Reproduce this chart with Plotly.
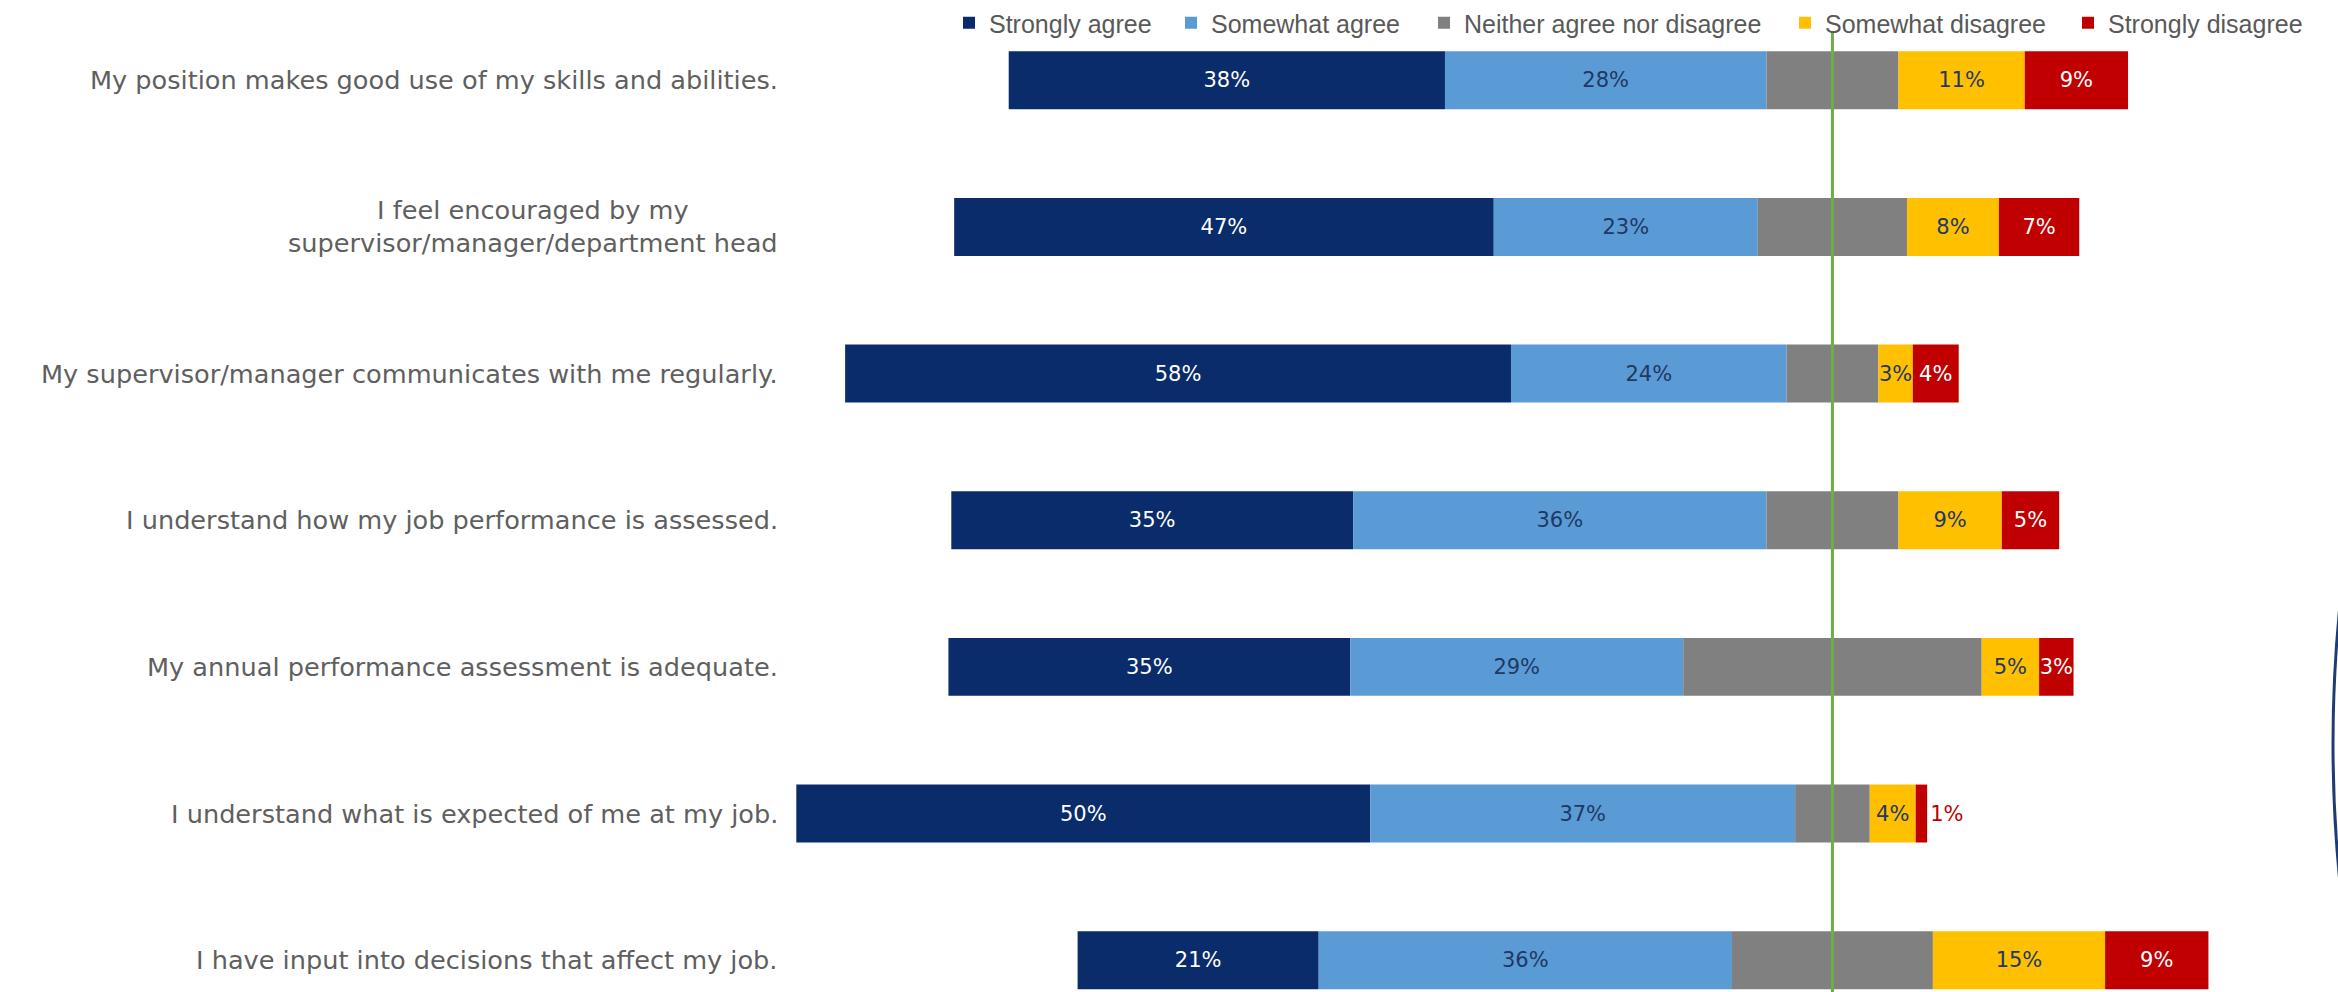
import plotly.graph_objects as go

categories = [
    "My position makes good use of my skills and abilities.",
    "I feel encouraged by my<br>supervisor/manager/department head",
    "My supervisor/manager communicates with me regularly.",
    "I understand how my job performance is assessed.",
    "My annual performance assessment is adequate.",
    "I understand what is expected of me at my job.",
    "I have input into decisions that affect my job.",
]
series_names = ["Strongly agree", "Somewhat agree", "Neither agree nor disagree",
                "Somewhat disagree", "Strongly disagree"]
strongly_agree = [38, 47, 58, 35, 35, 50, 21]
somewhat_agree = [28, 23, 24, 36, 29, 37, 36]
neither = [11.5, 13, 8, 11.5, 26, 6.5, 17.5]
somewhat_disagree = [11, 8, 3, 9, 5, 4, 15]
strongly_disagree = [9, 7, 4, 5, 3, 1, 9]

colors = ["#0A2C6A", "#5B9BD5", "#808080", "#FFC000", "#C00000"]
text_colors = ["#FFFFFF", "#1F3864", None, "#1F3864", "#FFFFFF"]

series = [strongly_agree, somewhat_agree, neither, somewhat_disagree, strongly_disagree]

# diverging layout: neutral category centred on 0
starts = [-(a + b + n / 2) for a, b, n in zip(strongly_agree, somewhat_agree, neither)]

W, H = 2338, 992
L, R, T, B = 790, 98, 5, 0
pw = W - L - R
ph = H - T - B

# left edge (px) of each legend entry
legend_px = [949, 1171, 1424, 1785, 2068]
legend_ids = ["legend", "legend2", "legend3", "legend4", "legend5"]

fig = go.Figure()
cum = list(starts)
for k, (name, vals) in enumerate(zip(series_names, series)):
    base = list(cum)
    kw = {}
    if text_colors[k] is not None:
        txt = [f"{v:g}%" for v in vals]
        pos = []
        tcol = []
        for v in vals:
            if v < 2:
                pos.append("outside")
                tcol.append(colors[k])
            else:
                pos.append("inside")
                tcol.append(text_colors[k])
        kw = dict(text=txt, textposition=pos, insidetextanchor="middle",
                  textangle=0,
                  textfont=dict(color=tcol, size=21, family="DejaVu Sans"),
                  constraintext="none", cliponaxis=False)
    fig.add_trace(go.Bar(
        y=categories, x=vals, base=base, orientation="h", name=name,
        legend=legend_ids[k],
        marker=dict(color=colors[k], line=dict(width=0)),
        width=0.395, hoverinfo="skip", **kw))
    cum = [c + v for c, v in zip(cum, vals)]

for c in categories:
    fig.add_annotation(x=(780 - L) / pw, xref="paper", y=c, yref="y",
                       text=c, showarrow=False, xanchor="right", yanchor="middle",
                       align="center", font=dict(family="DejaVu Sans", size=25.6, color="#5F5F5F"))

# green reference line
fig.add_shape(type="line", x0=0, x1=0, xref="x", y0=0, y1=(H - 28) / ph, yref="paper",
              line=dict(color="#70AD47", width=3), layer="above")

# decorative arc at right edge
fig.add_shape(type="circle", xref="paper", yref="paper",
              x0=(2333 - L) / pw, x1=(2333 + 2742 - L) / pw,
              y0=(H - (743 + 1371)) / ph, y1=(H - (743 - 1371)) / ph,
              line=dict(color="#1F3B73", width=3), layer="above")

legend_common = dict(orientation="h", xanchor="left", y=(H - 19) / ph, yanchor="middle",
                     font=dict(family="Liberation Sans", size=25, color="#595959"),
                     bgcolor="rgba(0,0,0,0)")
legends = {lid: dict(x=(px - L) / pw, **legend_common) for lid, px in zip(legend_ids, legend_px)}

fig.update_layout(
    width=W, height=H,
    margin=dict(l=L, r=R, t=T, b=B),
    barmode="overlay",
    plot_bgcolor="white", paper_bgcolor="white",
    xaxis=dict(range=[-90.8, 35.5], visible=False, fixedrange=True),
    yaxis=dict(type="category", categoryorder="array", categoryarray=categories,
               range=[6.217, -0.486], showticklabels=False, showgrid=False,
               zeroline=False, showline=False),
    showlegend=True,
    **legends,
)

fig.write_html("out.html")
